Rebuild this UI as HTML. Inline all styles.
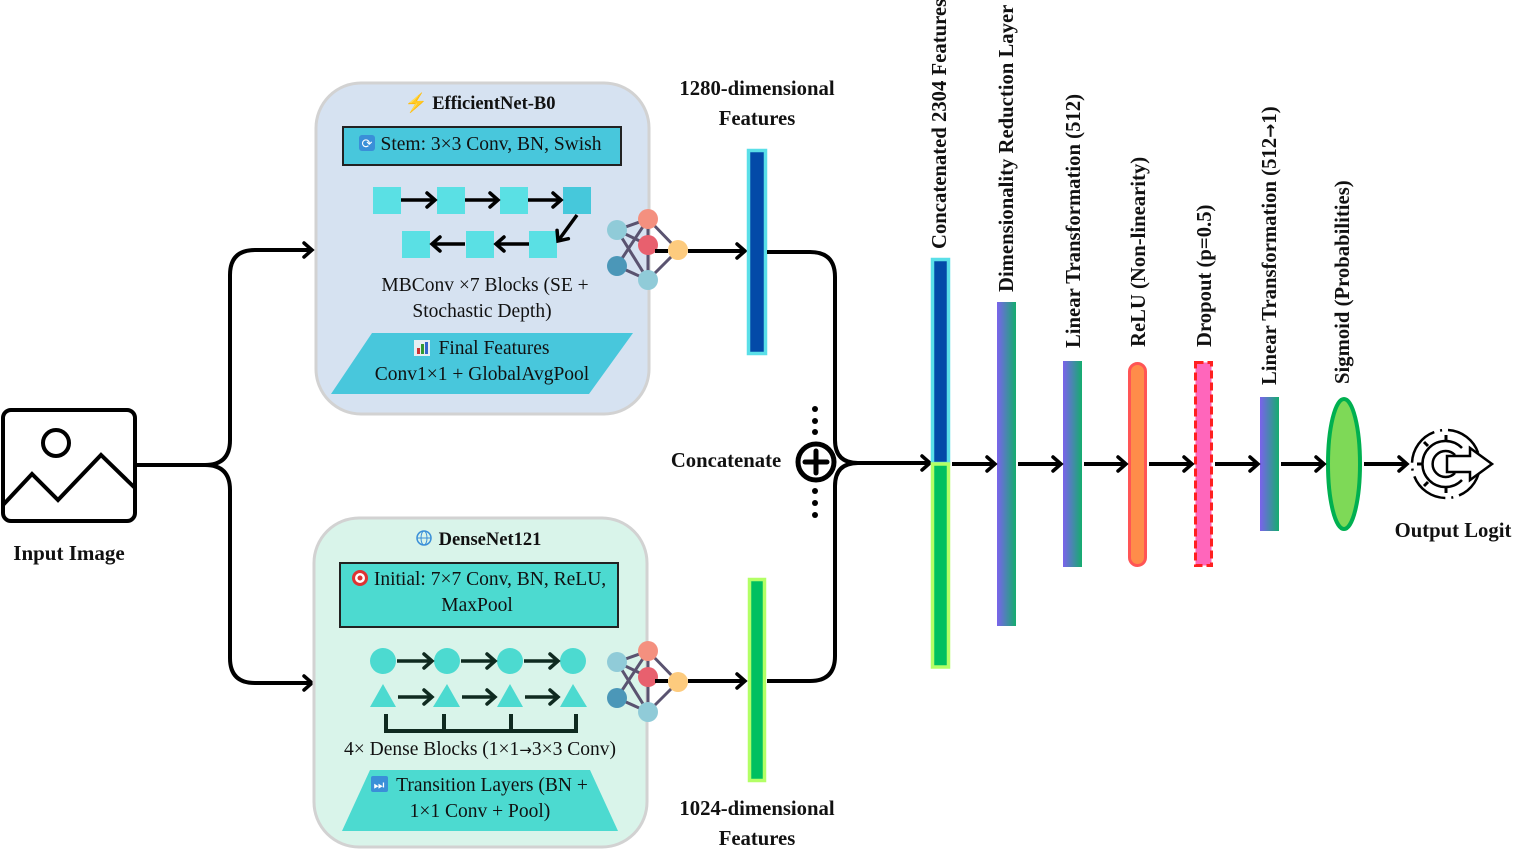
<!DOCTYPE html>
<html><head><meta charset="utf-8"><style>
html,body{margin:0;padding:0;background:#fff;}
svg{display:block;}
text{font-family:"Liberation Serif","Noto Serif CJK SC",serif;fill:#111;}
.b{font-weight:bold;}
</style></head><body>
<svg width="1515" height="852" viewBox="0 0 1515 852" xmlns="http://www.w3.org/2000/svg">
<defs>
<marker id="ah" markerWidth="16" markerHeight="16" refX="14" refY="8" orient="auto" markerUnits="userSpaceOnUse" style="overflow:visible">
<path d="M6,1 L14,8 L6,15" fill="none" stroke="#000" stroke-width="3.5" stroke-linecap="round"/>
</marker>
<marker id="ad" markerWidth="16" markerHeight="16" refX="14" refY="8" orient="auto" markerUnits="userSpaceOnUse" style="overflow:visible">
<path d="M6,1 L14,8 L6,15" fill="none" stroke="#0f2a20" stroke-width="3.5" stroke-linecap="round"/>
</marker>
<linearGradient id="g" x1="0" y1="0" x2="1" y2="0"><stop offset="0" stop-color="#7b62ec"/><stop offset="1" stop-color="#14ad6e"/></linearGradient>
</defs>

<!-- input image -->
<rect x="3" y="410" width="132" height="111" rx="8" fill="none" stroke="#000" stroke-width="4"/>
<circle cx="56" cy="443" r="13" fill="none" stroke="#000" stroke-width="4"/>
<polyline points="3,505 32,474 58,500 101,455 135,488" fill="none" stroke="#000" stroke-width="4"/>
<text x="69" y="560" class="b" font-size="21" text-anchor="middle">Input Image</text>

<path d="M137,465 H205 Q230,465 230,440 V275 Q230,250 255,250 H312" fill="none" stroke="#000" stroke-width="4" marker-end="url(#ah)"/>
<path d="M205,465 Q230,465 230,490 V658 Q230,683 255,683 H312" fill="none" stroke="#000" stroke-width="4" marker-end="url(#ah)"/>

<!-- EfficientNet box -->
<rect x="316" y="83" width="333" height="331" rx="45" fill="#d6e2f1" stroke="#d2d2d2" stroke-width="3"/>
<text x="480" y="109" class="b" font-size="18.5" text-anchor="middle"><tspan fill="#f5a020">⚡</tspan> EfficientNet-B0</text>
<rect x="343" y="127" width="278" height="38" fill="#48c7dc" stroke="#222" stroke-width="2"/>
<rect x="359" y="135" width="16" height="16" rx="3" fill="#3a8fd8"/>
<text x="367" y="148" font-size="13" text-anchor="middle" style="fill:#fff">⟳</text>
<text x="491" y="150" font-size="19.5" text-anchor="middle">Stem: 3×3 Conv, BN, Swish</text>
<g fill="#5ae0e4">
<rect x="373" y="187" width="28" height="27"/><rect x="437" y="187" width="28" height="27"/><rect x="500" y="187" width="28" height="27"/><rect x="563" y="187" width="28" height="27" fill="#46c8db"/>
<rect x="402" y="231" width="28" height="27"/><rect x="466" y="231" width="28" height="27"/><rect x="529" y="231" width="28" height="27"/>
</g>
<g stroke="#000" stroke-width="3.5" fill="none">
<line x1="401" y1="200" x2="435" y2="200" marker-end="url(#ah)"/>
<line x1="465" y1="200" x2="498" y2="200" marker-end="url(#ah)"/>
<line x1="528" y1="200" x2="561" y2="200" marker-end="url(#ah)"/>
<line x1="465" y1="244" x2="432" y2="244" marker-end="url(#ah)"/>
<line x1="529" y1="244" x2="496" y2="244" marker-end="url(#ah)"/>
<line x1="577" y1="215" x2="558" y2="241" marker-end="url(#ah)"/>
</g>
<text x="485" y="291" font-size="19.5" text-anchor="middle">MBConv ×7 Blocks (SE +</text>
<text x="482" y="317" font-size="19.5" text-anchor="middle">Stochastic Depth)</text>
<polygon points="372,333 633,333 589,394 331,394" fill="#48c7dc"/>
<rect x="414" y="340" width="16" height="16" fill="#e8eef2"/><rect x="417" y="348" width="3" height="6" fill="#c33"/><rect x="421" y="344" width="3" height="10" fill="#393"/><rect x="425" y="342" width="3" height="12" fill="#36c"/>
<text x="494" y="354" font-size="19.5" text-anchor="middle">Final Features</text>
<text x="482" y="380" font-size="19.5" text-anchor="middle">Conv1×1 + GlobalAvgPool</text>

<!-- NN icon top -->
<g id="nn">
<g stroke="#5a5370" stroke-width="3">
<line x1="617" y1="230" x2="648" y2="219"/><line x1="617" y1="230" x2="648" y2="245"/><line x1="617" y1="230" x2="648" y2="280"/>
<line x1="617" y1="266" x2="648" y2="219"/><line x1="617" y1="266" x2="648" y2="280"/>
<line x1="648" y1="219" x2="678" y2="250"/><line x1="648" y1="280" x2="678" y2="250"/><line x1="648" y1="219" x2="648" y2="280"/>
</g>
<circle cx="617" cy="230" r="10" fill="#90cbd8"/><circle cx="648" cy="219" r="10" fill="#f4907f"/>
<circle cx="648" cy="245" r="10" fill="#e8606e"/><circle cx="617" cy="266" r="10" fill="#4b97b8"/>
<circle cx="648" cy="280" r="10" fill="#90cbd8"/><circle cx="678" cy="250" r="10" fill="#fdcb7e"/>
</g>
<line x1="655" y1="251" x2="668" y2="251" stroke="#000" stroke-width="4"/>
<line x1="688" y1="251" x2="745" y2="251" stroke="#000" stroke-width="4" marker-end="url(#ah)"/>

<text x="757" y="95" class="b" font-size="20.7" text-anchor="middle">1280-dimensional</text>
<text x="757" y="125" class="b" font-size="20.7" text-anchor="middle">Features</text>
<rect x="748.5" y="150.5" width="17" height="203" fill="#034aa8" stroke="#5adfe8" stroke-width="3.5"/>

<path d="M767,252 H810 Q835,252 835,277 V440 Q835,463 858,463 H930" fill="none" stroke="#000" stroke-width="4" marker-end="url(#ah)"/>
<path d="M767,681 H810 Q835,681 835,656 V486 Q835,463 858,463" fill="none" stroke="#000" stroke-width="4"/>

<!-- concatenate -->
<circle cx="816" cy="462" r="18" fill="#fff" stroke="#000" stroke-width="5"/>
<line x1="805" y1="462" x2="827" y2="462" stroke="#000" stroke-width="5" stroke-linecap="round"/>
<line x1="816" y1="451" x2="816" y2="473" stroke="#000" stroke-width="5" stroke-linecap="round"/>
<g fill="#000"><circle cx="815" cy="409" r="3"/><circle cx="815" cy="421" r="3"/><circle cx="815" cy="432" r="3"/><circle cx="815" cy="491" r="3"/><circle cx="815" cy="503" r="3"/><circle cx="815" cy="515" r="3"/></g>
<text x="726" y="467" class="b" font-size="20.7" text-anchor="middle">Concatenate</text>

<!-- DenseNet box -->
<rect x="314" y="518" width="333" height="329" rx="45" fill="#d9f4ea" stroke="#d2d2d2" stroke-width="3"/>
<circle cx="424" cy="538" r="7" fill="none" stroke="#3a8fd8" stroke-width="1.5"/><ellipse cx="424" cy="538" rx="3" ry="7" fill="none" stroke="#3a8fd8" stroke-width="1"/><line x1="417" y1="538" x2="431" y2="538" stroke="#3a8fd8"/>
<text x="490" y="545" class="b" font-size="18.5" text-anchor="middle">DenseNet121</text>
<rect x="340" y="563" width="278" height="64" fill="#4cdad0" stroke="#222" stroke-width="2"/>
<circle cx="360" cy="578" r="8" fill="#d33"/><circle cx="360" cy="578" r="5" fill="#fff"/><circle cx="360" cy="578" r="2.5" fill="#d33"/>
<text x="490" y="585" font-size="19.5" text-anchor="middle">Initial: 7×7 Conv, BN, ReLU,</text>
<text x="477" y="611" font-size="19.5" text-anchor="middle">MaxPool</text>
<g fill="#4cdad0">
<circle cx="383" cy="661" r="13"/><circle cx="447" cy="661" r="13"/><circle cx="510" cy="661" r="13"/><circle cx="573" cy="661" r="13"/>
<polygon points="370,707 383,684 396,707"/><polygon points="433,707 447,684 460,707"/><polygon points="497,707 510,684 523,707"/><polygon points="560,707 573,684 587,707"/>
</g>
<g stroke="#0f2a20" stroke-width="3.5" fill="none">
<line x1="397" y1="661" x2="432" y2="661" marker-end="url(#ad)"/><line x1="461" y1="661" x2="495" y2="661" marker-end="url(#ad)"/><line x1="524" y1="661" x2="558" y2="661" marker-end="url(#ad)"/>
<line x1="398" y1="697" x2="432" y2="697" marker-end="url(#ad)"/><line x1="462" y1="697" x2="495" y2="697" marker-end="url(#ad)"/><line x1="525" y1="697" x2="558" y2="697" marker-end="url(#ad)"/>
<path d="M386,714 V731 H576 V714 M444,714 V731 M511,714 V731" stroke-width="4"/>
</g>
<text x="480" y="755" font-size="19.5" text-anchor="middle">4× Dense Blocks (1×1<tspan font-family="DejaVu Sans" font-size="15">→</tspan>3×3 Conv)</text>
<polygon points="370,770 590,770 618,831 342,831" fill="#4cdad0"/>
<rect x="371" y="776" width="17" height="16" rx="2" fill="#3a8fd8"/>
<text x="379" y="789" font-size="12" text-anchor="middle" style="fill:#fff">⏭</text>
<text x="492" y="791" font-size="19.5" text-anchor="middle">Transition Layers (BN +</text>
<text x="480" y="817" font-size="19.5" text-anchor="middle">1×1 Conv + Pool)</text>

<use href="#nn" transform="translate(0,432)"/>
<line x1="655" y1="681" x2="668" y2="681" stroke="#000" stroke-width="4"/>
<line x1="688" y1="681" x2="745" y2="681" stroke="#000" stroke-width="4" marker-end="url(#ah)"/>
<rect x="749.5" y="579.5" width="15" height="201" fill="#00c060" stroke="#b3ff66" stroke-width="3.5"/>
<text x="757" y="815" class="b" font-size="20.7" text-anchor="middle">1024-dimensional</text>
<text x="757" y="845" class="b" font-size="20.7" text-anchor="middle">Features</text>

<!-- concatenated bar -->
<rect x="932.5" y="259.5" width="16" height="204" fill="#034aa8" stroke="#5adfe8" stroke-width="3.5"/>
<rect x="932.5" y="464" width="16" height="203" fill="#00c060" stroke="#b3ff66" stroke-width="3.5"/>

<rect x="997" y="302" width="19" height="324" fill="url(#g)"/>
<rect x="1063" y="361" width="19" height="206" fill="url(#g)"/>
<rect x="1129.5" y="363.5" width="16" height="202" rx="8" fill="#ff8c4a" stroke="#ff5555" stroke-width="3"/>
<rect x="1195.5" y="362.5" width="16" height="203" fill="#ff66bb" stroke="#ff2020" stroke-width="3" stroke-dasharray="8,4"/>
<rect x="1260" y="397" width="19" height="134" fill="url(#g)"/>
<ellipse cx="1344" cy="464" rx="16" ry="65" fill="#7ed957" stroke="#00b050" stroke-width="4"/>

<g class="b" font-size="20.7">
<text transform="translate(946,249) rotate(-90)">Concatenated 2304 Features</text>
<text transform="translate(1013,292) rotate(-90)">Dimensionality Reduction Layer</text>
<text transform="translate(1080,348) rotate(-90)">Linear Transformation (512)</text>
<text transform="translate(1145,347) rotate(-90)">ReLU (Non-linearity)</text>
<text transform="translate(1211,347) rotate(-90)">Dropout (p=0.5)</text>
<text transform="translate(1276,385) rotate(-90)">Linear Transformation (512<tspan font-family="DejaVu Sans" font-size="17">→</tspan>1)</text>
<text transform="translate(1349,384) rotate(-90)">Sigmoid (Probabilities)</text>
</g>

<g stroke="#000" stroke-width="4">
<line x1="952" y1="464" x2="995" y2="464" marker-end="url(#ah)"/>
<line x1="1018" y1="464" x2="1061" y2="464" marker-end="url(#ah)"/>
<line x1="1084" y1="464" x2="1126" y2="464" marker-end="url(#ah)"/>
<line x1="1149" y1="464" x2="1192" y2="464" marker-end="url(#ah)"/>
<line x1="1215" y1="464" x2="1258" y2="464" marker-end="url(#ah)"/>
<line x1="1281" y1="464" x2="1324" y2="464" marker-end="url(#ah)"/>
<line x1="1364" y1="464" x2="1407" y2="464" marker-end="url(#ah)"/>
</g>

<!-- output icon -->
<g fill="none" stroke="#000" stroke-width="2.5">
<circle cx="1446" cy="464" r="34" stroke-dasharray="40,6,2,6"/>
<path d="M1462,448 A23,23 0 1 0 1462,480"/>
<path d="M1455,455 A13,13 0 1 0 1455,473"/>
<path d="M1447,456 H1470 V448 L1492,464 L1470,480 V472 H1447 Z" fill="#fff"/>
<path d="M1428,446 l-4,-4 M1422,464 h-5 M1428,482 l-4,4 M1446,440 v-5 M1446,488 v5" stroke-width="3"/>
</g>
<text x="1453" y="537" class="b" font-size="20.7" text-anchor="middle">Output Logit</text>
</svg>
</body></html>
